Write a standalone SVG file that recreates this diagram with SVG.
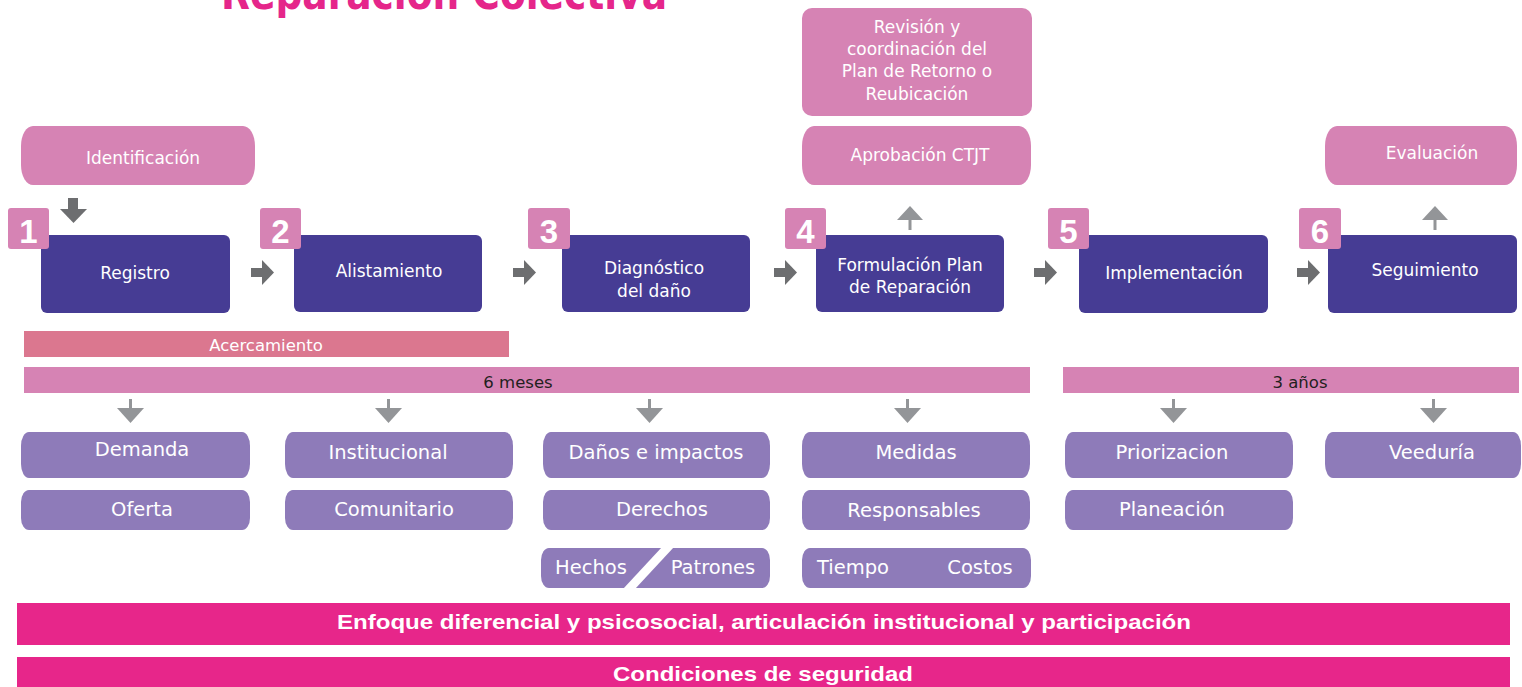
<svg xmlns="http://www.w3.org/2000/svg" width="1522" height="687" viewBox="0 0 1522 687">
<style>
text{font-family:"DejaVu Sans","Liberation Sans",sans-serif;}
.pk{fill:#D683B4;}
.dp{fill:#463C94;}
.lp{fill:#8E7BB9;}
.wt{fill:#FFFFFF;text-anchor:middle;}
.s17{font-size:17px;}
.s16{font-size:16.5px;}
.s19{font-size:19.5px;}
.num{font-family:"Liberation Sans",sans-serif;font-weight:bold;font-size:33px;fill:#FFFFFF;text-anchor:middle;}
.dk{fill:#6D6E70;}
.lg{fill:#939598;}
.bar{fill:#E7268A;}
.bt{font-family:"Liberation Sans",sans-serif;font-weight:bold;font-size:21px;fill:#FFFFFF;text-anchor:middle;}
</style>
<defs>
<g id="arrR"><rect x="0" y="8" width="12" height="9"/><polygon points="11,0 23,12.5 11,25"/></g>
<g id="arrD"><rect x="12" y="0" width="3" height="10"/><polygon points="0,9 27,9 13.5,24"/></g>
<g id="arrU"><polygon points="0,14 26,14 13,0"/><rect x="11.5" y="13" width="3" height="11"/></g>
</defs>

<text x="221" y="9" font-family="Liberation Sans, sans-serif" font-weight="bold" font-size="44" fill="#E5268A" textLength="446" lengthAdjust="spacingAndGlyphs">Reparación Colectiva</text>

<g id="identificacion"><rect class="pk" x="21" y="126" width="234" height="59" rx="12" ry="20"/><text class="wt s17" x="143" y="164">Identificación</text></g>
<g id="revision"><rect class="pk" x="802" y="8" width="230" height="108" rx="10"/>
<text class="wt s17" x="917" y="33">Revisión y</text><text class="wt s17" x="917" y="55">coordinación del</text><text class="wt s17" x="917" y="77">Plan de Retorno o</text><text class="wt s17" x="917" y="100">Reubicación</text></g>
<g id="aprobacion"><rect class="pk" x="802" y="126" width="229" height="59" rx="12" ry="20"/><text class="wt s17" x="920" y="161">Aprobación CTJT</text></g>
<g id="evaluacion"><rect class="pk" x="1325" y="126" width="192" height="59" rx="12" ry="20"/><text class="wt s17" x="1432" y="159">Evaluación</text></g>

<g id="step1"><rect class="dp" x="41" y="235" width="189" height="78" rx="6"/><text class="wt s17" x="135" y="279">Registro</text><rect class="pk" x="8" y="208" width="41" height="41" rx="3"/><text class="num" x="28.5" y="243">1</text></g>
<g id="step2"><rect class="dp" x="294" y="235" width="188" height="77" rx="6"/><text class="wt s17" x="389" y="277">Alistamiento</text><rect class="pk" x="260" y="208" width="41" height="41" rx="3"/><text class="num" x="280.5" y="243">2</text></g>
<g id="step3"><rect class="dp" x="562" y="235" width="188" height="77" rx="6"/><text class="wt s17" x="654" y="274">Diagnóstico</text><text class="wt s17" x="654" y="297">del daño</text><rect class="pk" x="528" y="208" width="42" height="41" rx="3"/><text class="num" x="549" y="243">3</text></g>
<g id="step4"><rect class="dp" x="816" y="235" width="188" height="77" rx="6"/><text class="wt s17" x="910" y="271">Formulación Plan</text><text class="wt s17" x="910" y="293">de Reparación</text><rect class="pk" x="785" y="208" width="41" height="41" rx="3"/><text class="num" x="805.5" y="243">4</text></g>
<g id="step5"><rect class="dp" x="1079" y="235" width="189" height="78" rx="6"/><text class="wt s17" x="1174" y="279">Implementación</text><rect class="pk" x="1048" y="208" width="41" height="41" rx="3"/><text class="num" x="1068.5" y="243">5</text></g>
<g id="step6"><rect class="dp" x="1328" y="235" width="189" height="78" rx="6"/><text class="wt s17" x="1425" y="276">Seguimiento</text><rect class="pk" x="1299" y="208" width="42" height="41" rx="3"/><text class="num" x="1320" y="243">6</text></g>

<g id="acercamiento"><rect x="24" y="331" width="485" height="26" fill="#DB778F"/><text class="wt s16" x="266" y="351">Acercamiento</text></g>
<g id="seis-meses"><rect class="pk" x="24" y="367" width="1006" height="26"/><text class="s16" x="518" y="388" text-anchor="middle" fill="#231F20">6 meses</text></g>
<g id="tres-anos"><rect class="pk" x="1063" y="367" width="456" height="26"/><text class="s16" x="1300" y="388" text-anchor="middle" fill="#231F20">3 años</text></g>

<g id="demanda"><rect class="lp" x="21" y="432" width="229" height="46" rx="8" ry="14"/><text class="wt s19" x="142" y="456">Demanda</text></g>
<g id="oferta"><rect class="lp" x="21" y="490" width="229" height="40" rx="8" ry="12"/><text class="wt s19" x="142" y="516">Oferta</text></g>
<g id="institucional"><rect class="lp" x="285" y="432" width="228" height="46" rx="8" ry="14"/><text class="wt s19" x="388" y="459">Institucional</text></g>
<g id="comunitario"><rect class="lp" x="285" y="490" width="228" height="40" rx="8" ry="12"/><text class="wt s19" x="394" y="516">Comunitario</text></g>
<g id="danos"><rect class="lp" x="543" y="432" width="227" height="46" rx="8" ry="14"/><text class="wt s19" x="656" y="459">Daños e impactos</text></g>
<g id="derechos"><rect class="lp" x="543" y="490" width="227" height="40" rx="8" ry="12"/><text class="wt s19" x="662" y="516">Derechos</text></g>
<g id="hechos-patrones"><rect class="lp" x="541" y="548" width="229" height="40" rx="8" ry="12"/><polygon points="623,589 635,589 674,547 662,547" fill="#FFFFFF"/><text class="wt s19" x="591" y="574">Hechos</text><text class="wt s19" x="713" y="574">Patrones</text></g>
<g id="medidas"><rect class="lp" x="802" y="432" width="228" height="46" rx="8" ry="14"/><text class="wt s19" x="916" y="459">Medidas</text></g>
<g id="responsables"><rect class="lp" x="802" y="490" width="228" height="40" rx="8" ry="12"/><text class="wt s19" x="914" y="517">Responsables</text></g>
<g id="tiempo-costos"><rect class="lp" x="802" y="548" width="229" height="40" rx="8" ry="12"/><text class="wt s19" x="853" y="574">Tiempo</text><text class="wt s19" x="980" y="574">Costos</text></g>
<g id="priorizacion"><rect class="lp" x="1065" y="432" width="228" height="46" rx="8" ry="14"/><text class="wt s19" x="1172" y="459">Priorizacion</text></g>
<g id="planeacion"><rect class="lp" x="1065" y="490" width="228" height="40" rx="8" ry="12"/><text class="wt s19" x="1172" y="516">Planeación</text></g>
<g id="veeduria"><rect class="lp" x="1325" y="432" width="196" height="46" rx="8" ry="14"/><text class="wt s19" x="1432" y="459">Veeduría</text></g>

<g id="enfoque"><rect class="bar" x="17" y="603" width="1493" height="42"/><text class="bt" x="764" y="629" textLength="854" lengthAdjust="spacingAndGlyphs">Enfoque diferencial y psicosocial, articulación institucional y participación</text></g>
<g id="condiciones"><rect class="bar" x="17" y="657" width="1493" height="32"/><text class="bt" x="763" y="681" textLength="300" lengthAdjust="spacingAndGlyphs">Condiciones de seguridad</text></g>

<g id="connectors">
<g class="dk"><rect x="68" y="198" width="10" height="12"/><polygon points="60,209 87,209 73.5,223"/></g>
<use href="#arrR" class="dk" x="251" y="260"/>
<use href="#arrR" class="dk" x="513" y="260"/>
<use href="#arrR" class="dk" x="774" y="260"/>
<use href="#arrR" class="dk" x="1034" y="260"/>
<use href="#arrR" class="dk" x="1297" y="260"/>
<use href="#arrU" class="lg" x="897" y="206"/>
<use href="#arrU" class="lg" x="1422" y="206"/>
<use href="#arrD" class="lg" x="117" y="399"/>
<use href="#arrD" class="lg" x="375" y="399"/>
<use href="#arrD" class="lg" x="636" y="399"/>
<use href="#arrD" class="lg" x="894" y="399"/>
<use href="#arrD" class="lg" x="1160" y="399"/>
<use href="#arrD" class="lg" x="1420" y="399"/>
</g>
</svg>
